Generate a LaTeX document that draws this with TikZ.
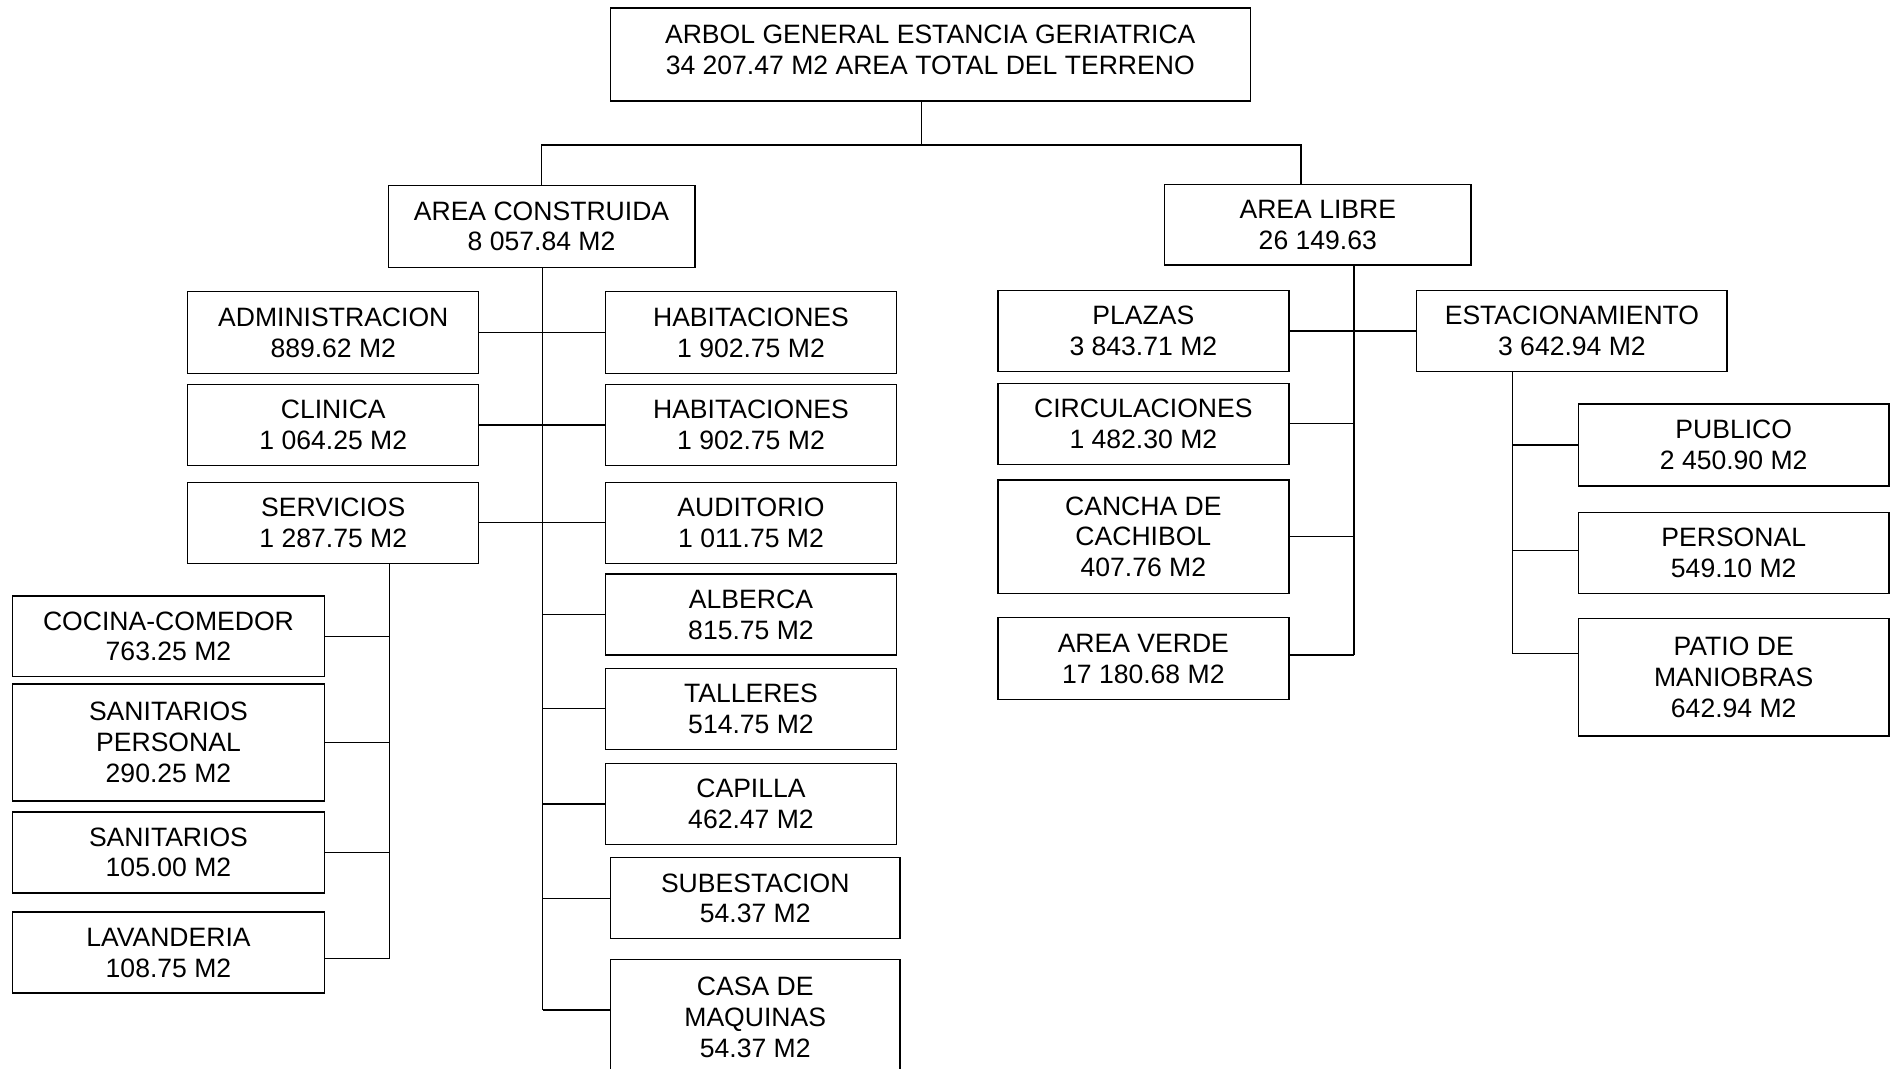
\documentclass[tikz,border=0pt]{standalone}
\usepackage{fontspec}
\setmainfont{Liberation Sans}
\begin{document}
\begin{tikzpicture}[x=1pt,y=-1pt,
  box/.style={draw, line width=1.1pt, anchor=north west, align=center, inner sep=0pt,
    font=\fontsize{22}{25.5}\selectfont},
  conn/.style={line width=1.1pt}]
\useasboundingbox (0,0) rectangle (1568,885);
% root
\node[box, minimum width=530pt, minimum height=77pt] (root) at (505,6) {ARBOL GENERAL ESTANCIA GERIATRICA\\34 207.47 M2 AREA TOTAL DEL TERRENO\rule[-8pt]{0pt}{8pt}};
\node[box, minimum width=254pt, minimum height=68pt] (constr) at (321,153) {AREA CONSTRUIDA\\8 057.84 M2};
\node[box, minimum width=254pt, minimum height=67pt] (libre) at (964,152) {AREA LIBRE\\26 149.63};
% construida left
\node[box, minimum width=241pt, minimum height=68pt] (admin) at (155,241) {ADMINISTRACION\\889.62 M2};
\node[box, minimum width=241pt, minimum height=67pt] (clin) at (155,318) {CLINICA\\1 064.25 M2};
\node[box, minimum width=241pt, minimum height=67pt] (serv) at (155,399) {SERVICIOS\\1 287.75 M2};
% construida right
\node[box, minimum width=241pt, minimum height=68pt] (hab1) at (501,241) {HABITACIONES\\1 902.75 M2};
\node[box, minimum width=241pt, minimum height=67pt] (hab2) at (501,318) {HABITACIONES\\1 902.75 M2};
\node[box, minimum width=241pt, minimum height=67pt] (aud) at (501,399) {AUDITORIO\\1 011.75 M2};
\node[box, minimum width=241pt, minimum height=67pt] (alb) at (501,475) {ALBERCA\\815.75 M2};
\node[box, minimum width=241pt, minimum height=67pt] (tall) at (501,553) {TALLERES\\514.75 M2};
\node[box, minimum width=241pt, minimum height=67pt] (cap) at (501,632) {CAPILLA\\462.47 M2};
\node[box, minimum width=240pt, minimum height=67pt] (sube) at (505,710) {SUBESTACION\\54.37 M2};
\node[box, minimum width=240pt, minimum height=96pt] (casa) at (505,794) {CASA DE\\MAQUINAS\\54.37 M2};
% servicios children
\node[box, minimum width=258pt, minimum height=67pt] (coc) at (10,493) {COCINA-COMEDOR\\763.25 M2};
\node[box, minimum width=258pt, minimum height=97pt] (sanp) at (10,566) {SANITARIOS\\PERSONAL\\290.25 M2};
\node[box, minimum width=258pt, minimum height=67pt] (san) at (10,672) {SANITARIOS\\105.00 M2};
\node[box, minimum width=258pt, minimum height=67pt] (lav) at (10,755) {LAVANDERIA\\108.75 M2};
% area libre children
\node[box, minimum width=241pt, minimum height=67pt] (plaz) at (826,240) {PLAZAS\\3 843.71 M2};
\node[box, minimum width=241pt, minimum height=67pt] (circ) at (826,317) {CIRCULACIONES\\1 482.30 M2};
\node[box, minimum width=241pt, minimum height=94pt] (canc) at (826,397) {CANCHA DE\\CACHIBOL\\407.76 M2};
\node[box, minimum width=241pt, minimum height=68pt] (verde) at (826,511) {AREA VERDE\\17 180.68 M2};
\node[box, minimum width=257pt, minimum height=67pt] (estac) at (1173,240) {ESTACIONAMIENTO\\3 642.94 M2};
\node[box, minimum width=257pt, minimum height=68pt] (pub) at (1307,334) {PUBLICO\\2 450.90 M2};
\node[box, minimum width=257pt, minimum height=67pt] (pers) at (1307,424) {PERSONAL\\549.10 M2};
\node[box, minimum width=257pt, minimum height=97pt] (patio) at (1307,512) {PATIO DE\\MANIOBRAS\\642.94 M2};
% root connectors
\coordinate (rs) at ([xshift=-7pt]root.south);
\coordinate (ln) at ([xshift=-14pt]libre.north);
\draw[conn] (rs) -- ++(0,36) coordinate (j0);
\draw[conn] (constr.north) |- (j0) -| (ln);
% construida trunk
\coordinate (ct) at ([xshift=1pt]constr.south);
\draw[conn] (ct) -- ([yshift=6pt]ct |- casa.west);
\draw[conn] (admin.east) -- (hab1.west);
\draw[conn] (clin.east) -- (hab2.west);
\draw[conn] (serv.east) -- (aud.west);
\draw[conn] (alb.west) -- (alb.west -| ct);
\draw[conn] (tall.west) -- (tall.west -| ct);
\draw[conn] (cap.west) -- (cap.west -| ct);
\draw[conn] (sube.west) -- (sube.west -| ct);
\draw[conn] ([yshift=6pt]casa.west) -- ([yshift=6pt]casa.west -| ct);
% servicios trunk
\coordinate (sv) at ([xshift=46.5pt]serv.south);
\draw[conn] (sv) -- ([yshift=-5pt]sv |- lav.east);
\draw[conn] (coc.east) -- (coc.east -| sv);
\draw[conn] (sanp.east) -- (sanp.east -| sv);
\draw[conn] (san.east) -- (san.east -| sv);
\draw[conn] ([yshift=-5pt]lav.east) -- ([yshift=-5pt]lav.east -| sv);
% libre trunk
\coordinate (lv) at ([xshift=30pt]libre.south);
\draw[conn] (lv) -- ([yshift=3pt]lv |- verde.east);
\draw[conn] (plaz.east) -- (estac.west);
\draw[conn] (circ.east) -- (circ.east -| lv);
\draw[conn] (canc.east) -- (canc.east -| lv);
\draw[conn] ([yshift=3pt]verde.east) -- ([yshift=3pt]verde.east -| lv);
% estacionamiento trunk
\coordinate (ev) at ([xshift=-49pt]estac.south);
\draw[conn] (ev) -- ([yshift=19.5pt]ev |- patio.west);
\draw[conn] (pub.west) -- (pub.west -| ev);
\draw[conn] ([yshift=2pt]pers.west) -- ([yshift=2pt]pers.west -| ev);
\draw[conn] ([yshift=19.5pt]patio.west) -- ([yshift=19.5pt]patio.west -| ev);
\end{tikzpicture}
\end{document}
